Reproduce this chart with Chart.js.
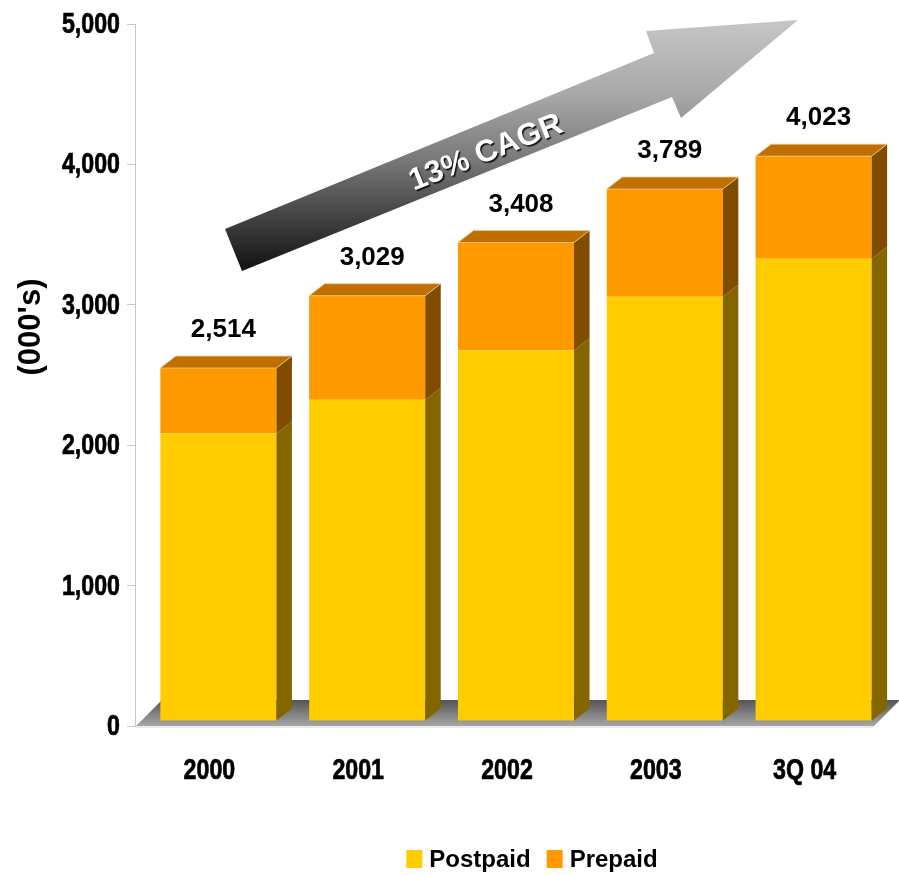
<!DOCTYPE html>
<html>
<head>
<meta charset="utf-8">
<title>Subscribers</title>
<script src="https://cdn.jsdelivr.net/npm/chart.js@4.4.1/dist/chart.umd.min.js"></script>
<style>
  html, body { margin: 0; padding: 0; background: #fff; }
  #wrap { width: 899px; height: 875px; }
</style>
</head>
<body>
<div id="wrap"><canvas id="subsChart" width="899" height="875"></canvas></div>
<script>
// Subscribers by year, thousands
const categories = ['2000', '2001', '2002', '2003', '3Q 04'];
const postpaid = [2048, 2288, 2640, 3022, 3293];
const prepaid = [466, 741, 768, 767, 730];
const yTickValues = [0, 1000, 2000, 3000, 4000, 5000];
const growthLabel = '13% CAGR';
const axisTitle = "(000's)";

const SANS = "'Liberation Sans', Arial, sans-serif";
// axis labels use a condensed bold face, squeezed horizontally
const AXIS_FONT = 'bold 29px ' + SANS;
const AXIS_SQUEEZE = 0.8;

// front face offset from the scale, and depth of side/top faces
const FRONT_DX = 9, FRONT_DY = -5;
const DEPTH_X = 15.5, DEPTH_Y = -12;
const FLOOR_DEPTH = 26;

function drawFloor(chart) {
    const { ctx, chartArea: a, scales } = chart;
    const y0 = scales.y.getPixelForValue(0);
    const left = a.left + 1, right = a.right - 5;
    const grad = ctx.createLinearGradient(0, y0 - FLOOR_DEPTH, 0, y0);
    grad.addColorStop(0, '#555555');
    grad.addColorStop(1, '#a6a6a6');
    ctx.save();
    ctx.fillStyle = grad;
    ctx.beginPath();
    ctx.moveTo(left, y0);
    ctx.lineTo(right, y0);
    ctx.lineTo(right + FLOOR_DEPTH, y0 - FLOOR_DEPTH);
    ctx.lineTo(left + FLOOR_DEPTH, y0 - FLOOR_DEPTH);
    ctx.closePath();
    ctx.fill();
    ctx.strokeStyle = '#e4e4e4';
    ctx.lineWidth = 1.5;
    ctx.beginPath();
    ctx.moveTo(left, y0 + 1);
    ctx.lineTo(right, y0 + 1);
    ctx.stroke();
    ctx.restore();
}

function squeezedText(ctx, text, x, y, align) {
    ctx.save();
    ctx.translate(x, y);
    ctx.scale(AXIS_SQUEEZE, 1);
    ctx.textAlign = align;
    ctx.fillText(text, 0, 0);
    ctx.strokeText(text, 0, 0);
    ctx.restore();
}

function drawLegend(chart) {
    const ctx = chart.ctx;
    const sets = chart.data.datasets;
    const boxW = 16, boxH = 18, textGap = 7, itemGap = 16;
    const centerX = 532, centerY = 859;
    ctx.save();
    ctx.font = 'bold 24px ' + SANS;
    ctx.textBaseline = 'middle';
    const widths = sets.map(ds => boxW + textGap + ctx.measureText(ds.label).width);
    const total = widths.reduce((s, w) => s + w, 0) + itemGap * (sets.length - 1);
    let x = centerX - total / 2;
    sets.forEach((ds, i) => {
        ctx.fillStyle = ds.backgroundColor;
        ctx.fillRect(x, centerY - boxH / 2, boxW, boxH);
        ctx.fillStyle = '#000';
        ctx.fillText(ds.label, x + boxW + textGap, centerY + 1);
        x += widths[i] + itemGap;
    });
    ctx.restore();
}

// side and top faces for each stacked segment, then the totals above
const boxes3d = {
    id: 'boxes3d',
    beforeDatasetsDraw(chart) {
        drawFloor(chart);
        chart.ctx.save();
        chart.ctx.translate(FRONT_DX, FRONT_DY);
    },
    afterDatasetsDraw(chart) {
        const ctx = chart.ctx;
        const sets = chart.data.datasets;
        sets.forEach((ds, di) => {
            const meta = chart.getDatasetMeta(di);
            meta.data.forEach(bar => {
                const { x, y, base, width } = bar.getProps(['x', 'y', 'base', 'width'], true);
                const l = x - width / 2, r = x + width / 2;
                ctx.fillStyle = ds.sideColor;
                ctx.beginPath();
                ctx.moveTo(r, base);
                ctx.lineTo(r, y);
                ctx.lineTo(r + DEPTH_X, y + DEPTH_Y);
                ctx.lineTo(r + DEPTH_X, base + DEPTH_Y);
                ctx.closePath();
                ctx.fill();
                if (di === sets.length - 1) {
                    ctx.fillStyle = ds.topColor;
                    ctx.strokeStyle = 'rgba(240,200,140,0.8)';
                    ctx.lineWidth = 1;
                    ctx.beginPath();
                    ctx.moveTo(l, y);
                    ctx.lineTo(l + DEPTH_X, y + DEPTH_Y);
                    ctx.lineTo(r + DEPTH_X, y + DEPTH_Y);
                    ctx.lineTo(r, y);
                    ctx.closePath();
                    ctx.fill();
                    ctx.stroke();
                }
            });
        });
        ctx.restore();

        // totals
        const topMeta = chart.getDatasetMeta(sets.length - 1);
        ctx.save();
        ctx.font = 'bold 26px ' + SANS;
        ctx.fillStyle = '#000';
        ctx.textAlign = 'center';
        ctx.textBaseline = 'middle';
        topMeta.data.forEach((bar, i) => {
            const total = postpaid[i] + prepaid[i];
            ctx.fillText(total.toLocaleString('en-US'), bar.x + FRONT_DX + 5, bar.y + FRONT_DY - 38);
        });
        ctx.restore();
    },
    afterDraw(chart) {
        const { ctx, chartArea: a, scales } = chart;

        // axis labels
        ctx.save();
        ctx.font = AXIS_FONT;
        ctx.fillStyle = '#000';
        ctx.strokeStyle = '#000';
        ctx.lineWidth = 0.7;
        ctx.textBaseline = 'middle';
        scales.y.ticks.forEach(t => {
            squeezedText(ctx, t.value.toLocaleString('en-US'), a.left - 15, scales.y.getPixelForValue(t.value) + 1, 'right');
        });
        categories.forEach((c, i) => {
            squeezedText(ctx, c, scales.x.getPixelForValue(i), a.bottom + 45, 'center');
        });
        ctx.restore();

        drawLegend(chart);

        // growth arrow, placed from the plot's top-left corner
        const ox = a.left, oy = a.top;
        const shape = [[107, 247], [90, 205], [519, 29], [511, 7], [663, -4], [546, 94], [537, 73]];
        const grad = ctx.createLinearGradient(0, oy + 247, 0, oy - 4);
        grad.addColorStop(0, '#101010');
        grad.addColorStop(0.45, '#7a7a7a');
        grad.addColorStop(0.7, '#a8a8a8');
        grad.addColorStop(1, '#c6c6c6');
        ctx.save();
        ctx.fillStyle = grad;
        ctx.beginPath();
        shape.forEach(([px, py], i) => {
            if (i === 0) ctx.moveTo(ox + px, oy + py);
            else ctx.lineTo(ox + px, oy + py);
        });
        ctx.closePath();
        ctx.fill();

        ctx.translate(ox + 351, oy + 129);
        ctx.rotate(-21.5 * Math.PI / 180);
        ctx.font = 'bold 31px ' + SANS;
        ctx.textAlign = 'center';
        ctx.textBaseline = 'middle';
        ctx.shadowColor = 'rgba(0,0,0,0.85)';
        ctx.shadowOffsetX = 1.5;
        ctx.shadowOffsetY = 1.5;
        ctx.shadowBlur = 1;
        ctx.fillStyle = '#ffffff';
        ctx.fillText(growthLabel, 0, 0);
        ctx.restore();

        // y axis title
        ctx.save();
        ctx.translate(31, 327);
        ctx.rotate(-Math.PI / 2);
        ctx.font = 'bold 31px ' + SANS;
        ctx.fillStyle = '#000';
        ctx.textAlign = 'center';
        ctx.textBaseline = 'middle';
        ctx.fillText(axisTitle, 0, 0);
        ctx.restore();
    }
};

new Chart(document.getElementById('subsChart'), {
    type: 'bar',
    data: {
        labels: categories,
        datasets: [
            {
                label: 'Postpaid',
                data: postpaid,
                backgroundColor: '#FFCC00',
                sideColor: '#846600',
                topColor: '#C09A00',
                borderWidth: 0
            },
            {
                label: 'Prepaid',
                data: prepaid,
                backgroundColor: '#FF9900',
                sideColor: '#804C00',
                topColor: '#C07000',
                borderWidth: 0
            }
        ]
    },
    options: {
        responsive: false,
        animation: false,
        categoryPercentage: 1,
        barPercentage: 0.78,
        layout: { padding: { top: 24, right: 20, left: 0, bottom: 0 } },
        plugins: {
            tooltip: { enabled: false },
            legend: { display: false }
        },
        scales: {
            x: {
                stacked: true,
                grid: { display: false },
                border: { display: false },
                ticks: { display: false },
                afterFit(scale) { scale.height = 149; }
            },
            y: {
                stacked: true,
                min: 0,
                max: 5000,
                afterBuildTicks(scale) {
                    scale.ticks = yTickValues.map(v => ({ value: v }));
                },
                grid: { drawOnChartArea: false, tickLength: 8, color: '#c8c8c8' },
                border: { color: '#c8c8c8' },
                ticks: { display: false },
                afterFit(scale) { scale.width = 135; }
            }
        }
    },
    plugins: [boxes3d]
});
</script>
</body>
</html>
